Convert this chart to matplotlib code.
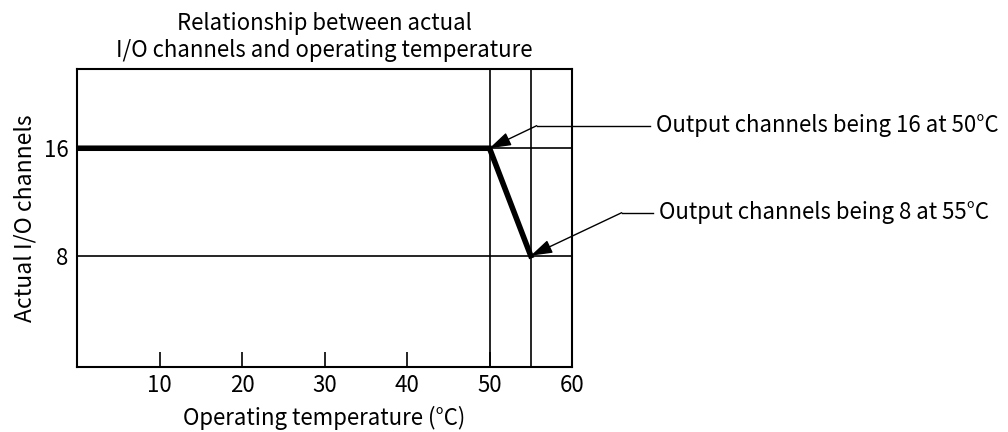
import matplotlib
matplotlib.use('Agg')
import matplotlib.pyplot as plt

# data
temps = [0, 50, 55]
channels = [16, 16, 8]
x_ticks = [10, 20, 30, 40, 50, 60]
y_ticks = [8, 16]
grid_x = [50, 55]
notes = ["Output channels being 16 at 50°C", "Output channels being 8 at 55°C"]

plt.rcParams['font.family'] = ['Noto Sans CJK SC', 'DejaVu Sans']
plt.rcParams['font.weight'] = 'light'

fig = plt.figure(figsize=(10.08, 4.32), dpi=100)
ax = fig.add_axes([77 / 1008, 1 - 366.5 / 432, 495 / 1008, 297.5 / 432])

# reference lines
ax.axhline(8, color='black', lw=1.2)
ax.plot([50, 60], [16, 16], color='black', lw=1.2)
for gx in grid_x:
    ax.axvline(gx, color='black', lw=1.2)

# main curve
ax.plot(temps, channels, color='black', lw=4, solid_joinstyle='miter')

ax.set_xlim(0, 60)
ax.set_ylim(-0.25, 21.9)
ax.set_xticks(x_ticks)
ax.set_yticks(y_ticks)
ax.tick_params(axis='x', direction='in', length=11, width=1.2, labelsize=16, pad=5.5)
ax.tick_params(axis='y', length=0, labelsize=16, pad=6)
for s in ax.spines.values():
    s.set_linewidth(1.5)

ax.set_title("Relationship between actual\nI/O channels and operating temperature",
             fontsize=16, pad=9, linespacing=1.2)
ax.set_xlabel("Operating temperature (°C)", fontsize=16, labelpad=6)
ax.set_ylabel("Actual I/O channels", fontsize=16.5, labelpad=5)

# callouts
aprops = dict(arrowstyle='-|>,head_length=1.1,head_width=0.35', color='black',
              lw=1.0, shrinkA=0, shrinkB=0, mutation_scale=12)
ax.annotate('', xy=(50, 16), xytext=(55.72, 17.68), arrowprops=aprops)
ax.plot([55.72, 69.45], [17.68, 17.68], color='black', lw=1.0, clip_on=False)
ax.text(70.2, 17.68, notes[0], fontsize=16, va='center', ha='left')

ax.annotate('', xy=(55, 8), xytext=(66.02, 11.2), arrowprops=aprops)
ax.plot([66.02, 69.8], [11.2, 11.2], color='black', lw=1.0, clip_on=False)
ax.text(70.6, 11.2, notes[1], fontsize=16, va='center', ha='left')

fig.savefig('out.png', dpi=100)
